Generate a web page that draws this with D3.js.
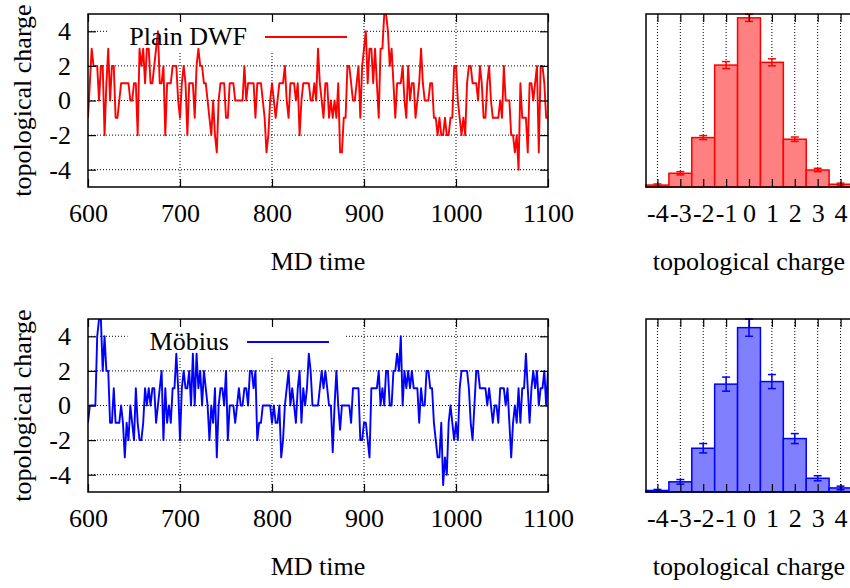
<!DOCTYPE html>
<html>
<head>
<meta charset="utf-8">
<script src="https://cdn.jsdelivr.net/npm/d3@7"></script>
<style>
  body { margin: 0; background: #fff; }
  svg { display: block; font-family: "Liberation Serif", "Times New Roman", serif; }
</style>
</head>
<body>
<svg id="chart" width="850" height="588"></svg>
<script>
// MD time axis: one measurement every 2 time units from 600 to 1100
const tStart = 600, tStep = 2;
const mdTicks = [600, 700, 800, 900, 1000, 1100];
const qTicks = [-4, -2, 0, 2, 4];

// topological charge history, plain DWF
const dwfQ = [
  -1, 1, 3, 2, 2, 2, 0, 2, 2, -2,
  1, 3, 0, 2, 2, -1, -1, 0, 1, 1,
  1, 1, 1, 0, 0, 1, 1, -2, 3, 2,
  3, 1, 3, 3, 1, 1, 2, 3, 4, 1,
  1, 2, -2, 1, 1, 1, 2, 2, 2, 0,
  -1, 1, 2, 1, -2, 1, 1, 1, -1, 2,
  3, 2, 2, 1, 1, 0, -1, -2, 0, -2,
  -3, 0, 1, 1, 1, -1, -1, 1, 1, 1,
  0, 0, 0, 0, 0, 2, 0, 1, 1, 1,
  1, -1, 1, 1, 1, 0, -1, -3, -2, 0,
  1, 0, -1, 0, 1, 1, 1, 2, 0, -1,
  1, 1, 1, 0, 1, -2, 0, 1, 1, 1,
  1, 0, 0, 1, 0, 3, 1, 0, -1, 1,
  1, -1, 0, -1, 0, -1, 1, -3, -3, -1,
  -1, 2, 2, 1, 0, 0, 1, 2, -1, 2,
  3, 4, 1, 3, 3, 1, 3, 1, -1, 3,
  3, 5, 5, 4, 2, 3, 1, -1, 1, 1,
  1, 2, 0, -1, 2, 0, 1, 1, -1, 0,
  1, 3, 1, 0, 0, 0, 1, 1, -1, -1,
  -2, -1, -2, -2, -1, -2, -2, -1, -1, 2,
  2, 0, -1, -2, -1, -2, 1, 2, 2, 1,
  1, 1, 0, 2, 1, -1, -1, 1, 2, 0,
  -1, -1, -1, -1, 0, -1, 2, 0, 0, 0,
  -2, -2, -3, -2, -4, 1, -1, -1, -1, -3,
  1, 1, 0, 1, 2, -3, 2, 2, 1, -1,
  -1
];

// topological charge history, Möbius
const mobQ = [
  -1, 0, 0, 0, 0, 4, 5, 5, 2, 4,
  2, 2, -1, -1, 1, -1, -1, -1, 0, -1,
  -3, -1, -2, 0, -1, -2, 1, -1, -2, -2,
  -1, 1, 0, 1, 0, 1, 1, -1, 0, 1,
  2, -2, 1, -1, 0, -1, 1, 1, 3, 1,
  -2, 1, 2, 1, 1, 2, 0, 3, 0, 3,
  1, 2, 0, 2, 1, 0, -2, 0, -1, 1,
  -3, 0, 1, 1, 0, 2, -2, 0, 0, 0,
  -1, 0, 1, 0, 0, 1, 1, 0, 2, 2,
  1, 2, -2, -1, -1, 0, 0, 0, 0, 0,
  -1, 0, -1, -1, 0, -3, -2, 0, 1, 2,
  0, 1, 0, -1, 1, 2, -1, 1, 0, 1,
  3, 2, 0, 0, 0, 0, 1, 2, 1, 2,
  1, 0, 0, -2.7, 0, 2, 0, -1.4, 0, 0,
  0, 0, 0, -1, 1, 1, 1, 1, -2, -2,
  -1, -1, -2, -3, 1, 1, 1, 1, 2, 0,
  1, 0, 2, 2, 0, 0, 2, 2, 3, 2,
  4, 0, 2, 1, 2, 1, 2, 1, 1, 1,
  -1, 1, 0, 0, 2, 2, 1, 1, -1, -2,
  -3, -3, -1, -4.6, -3, -4, -1, 0, -1, -2,
  -1, -2, 1, 2, 2, 2, 2, 1, -1, -2,
  0, 2, 2, 1, 1, 1, 1, 0, 1, 0,
  -1, 0, 0, -1, 1, 1, 1, 0, 1, -1,
  -3, -1, 0, -1, 1, -1, 1, 1, 3, 1,
  -1, 1, 2, 1, 2, 0, 1, 1, 2, 0,
  2
];

// histograms of the charge
const charges = [-4, -3, -2, -1, 0, 1, 2, 3, 4];
const dwfProb = [0.0035, 0.025, 0.090, 0.222, 0.308, 0.227, 0.087, 0.031, 0.005];
const dwfErr  = [0.002, 0.003, 0.0036, 0.0064, 0.0064, 0.0064, 0.004, 0.003, 0.002];
const mobProb = [0.003, 0.020, 0.086, 0.212, 0.323, 0.217, 0.105, 0.027, 0.008];
const mobErr  = [0.002, 0.0045, 0.0092, 0.0138, 0.017, 0.0138, 0.0098, 0.005, 0.0035];

const svg = d3.select('#chart');
const FS = 26;
const plotH = 173;
const plain = d => String(d);   // hyphen minus, no thousands separator

function linePanel(top, values, color, name, keyRight) {
  const x = d3.scaleLinear().domain([600, 1100]).range([88, 548]);
  const y = d3.scaleLinear().domain([-5, 5]).range([top + plotH, top]);
  const g = svg.append('g');
  const id = 'clip' + top;

  g.append('clipPath').attr('id', id)
    .append('rect').attr('x', 88).attr('y', top).attr('width', 460).attr('height', plotH);

  // dotted grid
  g.append('g').selectAll('line').data(mdTicks.slice(1, -1)).join('line')
    .attr('x1', d => x(d)).attr('x2', d => x(d))
    .attr('y1', top).attr('y2', top + plotH);
  g.append('g').selectAll('line').data(qTicks).join('line')
    .attr('x1', 88).attr('x2', 548)
    .attr('y1', d => y(d)).attr('y2', d => y(d));
  g.selectAll('g line').attr('stroke', '#000').attr('stroke-width', 1).attr('stroke-dasharray', '1,2');

  // opaque key box
  const key = g.append('text').attr('x', keyRight).attr('y', top + 31)
    .attr('text-anchor', 'end').attr('font-size', FS).text(name);
  const tw = key.node().getComputedTextLength();
  g.insert('rect', 'text')
    .attr('x', keyRight - tw - 22).attr('y', top + 2)
    .attr('width', tw + 22 + 116).attr('height', 35).attr('fill', '#fff');

  // data
  const pts = values.map((v, i) => [tStart + i * tStep, v]);
  g.append('path').datum(pts)
    .attr('clip-path', `url(#${id})`)
    .attr('fill', 'none').attr('stroke', color).attr('stroke-width', 1.9)
    .attr('stroke-linejoin', 'round')
    .attr('d', d3.line().x(d => x(d[0])).y(d => y(d[1])));

  key.raise();
  g.append('line').attr('x1', keyRight + 18).attr('x2', keyRight + 100)
    .attr('y1', top + 23).attr('y2', top + 23)
    .attr('stroke', color).attr('stroke-width', 1.9);

  // axes with inward ticks
  const ax = (a) => a.tickSizeOuter(0).tickSizeInner(-8);
  g.append('g').attr('transform', `translate(0,${top + plotH})`)
    .call(ax(d3.axisBottom(x).tickValues(mdTicks).tickFormat(plain).tickPadding(17)));
  g.append('g').attr('transform', `translate(0,${top})`)
    .call(ax(d3.axisTop(x).tickValues(mdTicks).tickFormat('')));
  g.append('g').attr('transform', 'translate(88,0)')
    .call(ax(d3.axisLeft(y).tickValues(qTicks).tickFormat(plain).tickPadding(17)));
  g.append('g').attr('transform', 'translate(548,0)')
    .call(ax(d3.axisRight(y).tickValues(qTicks).tickFormat('')));
  g.selectAll('.domain').remove();
  g.selectAll('.tick line').attr('stroke', '#000').attr('stroke-width', 1.2);
  g.selectAll('.tick text').attr('font-size', FS).attr('font-family', 'Liberation Serif').attr('fill', '#000');

  g.append('rect').attr('x', 88).attr('y', top).attr('width', 460).attr('height', plotH)
    .attr('fill', 'none').attr('stroke', '#000').attr('stroke-width', 1.5);

  g.append('text').attr('transform', `translate(31,${top + plotH / 2}) rotate(-90)`)
    .attr('text-anchor', 'middle').attr('font-size', FS).text('topological charge');
  g.append('text').attr('x', 318).attr('y', top + 256)
    .attr('text-anchor', 'middle').attr('font-size', FS).text('MD time');
}

function histPanel(top, probs, errs, yMax, color, fill) {
  const x = d3.scaleLinear().domain([-4.5, 4.5]).range([646, 852]);
  const y = d3.scaleLinear().domain([0, yMax]).range([top + plotH, top]);
  const g = svg.append('g');

  g.append('g').selectAll('line').data(charges).join('line')
    .attr('x1', d => x(d)).attr('x2', d => x(d))
    .attr('y1', top).attr('y2', top + plotH)
    .attr('stroke', '#000').attr('stroke-width', 1).attr('stroke-dasharray', '1,2');

  const bars = charges.map((c, i) => ({ c, p: probs[i], e: errs[i] }));
  g.append('g').selectAll('rect').data(bars).join('rect')
    .attr('x', d => x(d.c - 0.5)).attr('width', d => x(d.c + 0.5) - x(d.c - 0.5))
    .attr('y', d => y(d.p)).attr('height', d => y(0) - y(d.p))
    .attr('fill', fill).attr('stroke', color).attr('stroke-width', 1.5);

  const eb = g.append('g').attr('stroke', color).attr('stroke-width', 1.5);
  eb.selectAll('.v').data(bars).join('line')
    .attr('x1', d => x(d.c)).attr('x2', d => x(d.c))
    .attr('y1', d => y(d.p - d.e)).attr('y2', d => y(d.p + d.e));
  eb.selectAll('.cap').data(bars.flatMap(d => [d.p - d.e, d.p + d.e].map(v => ({ c: d.c, v }))))
    .join('line')
    .attr('x1', d => x(d.c) - 4).attr('x2', d => x(d.c) + 4)
    .attr('y1', d => y(d.v)).attr('y2', d => y(d.v));

  const ax = (a) => a.tickSizeOuter(0).tickSizeInner(-8);
  g.append('g').attr('transform', `translate(0,${top + plotH})`)
    .call(ax(d3.axisBottom(x).tickValues(charges).tickFormat(plain).tickPadding(17)));
  g.append('g').attr('transform', `translate(0,${top})`)
    .call(ax(d3.axisTop(x).tickValues(charges).tickFormat('')));
  g.selectAll('.domain').remove();
  g.selectAll('.tick line').attr('stroke', '#000').attr('stroke-width', 1.2);
  g.selectAll('.tick text').attr('font-size', FS).attr('font-family', 'Liberation Serif').attr('fill', '#000');

  g.append('rect').attr('x', 646).attr('y', top).attr('width', 206).attr('height', plotH)
    .attr('fill', 'none').attr('stroke', '#000').attr('stroke-width', 1.5);

  g.append('text').attr('x', 749).attr('y', top + 256)
    .attr('text-anchor', 'middle').attr('font-size', FS).text('topological charge');
}

linePanel(14, dwfQ, '#ff0000', 'Plain DWF', 247);
histPanel(14, dwfProb, dwfErr, 0.315, '#ff0000', '#ff8080');
linePanel(319, mobQ, '#0000ff', 'Möbius', 229);
histPanel(319, mobProb, mobErr, 0.34, '#0000ff', '#8080ff');
</script>
</body>
</html>
